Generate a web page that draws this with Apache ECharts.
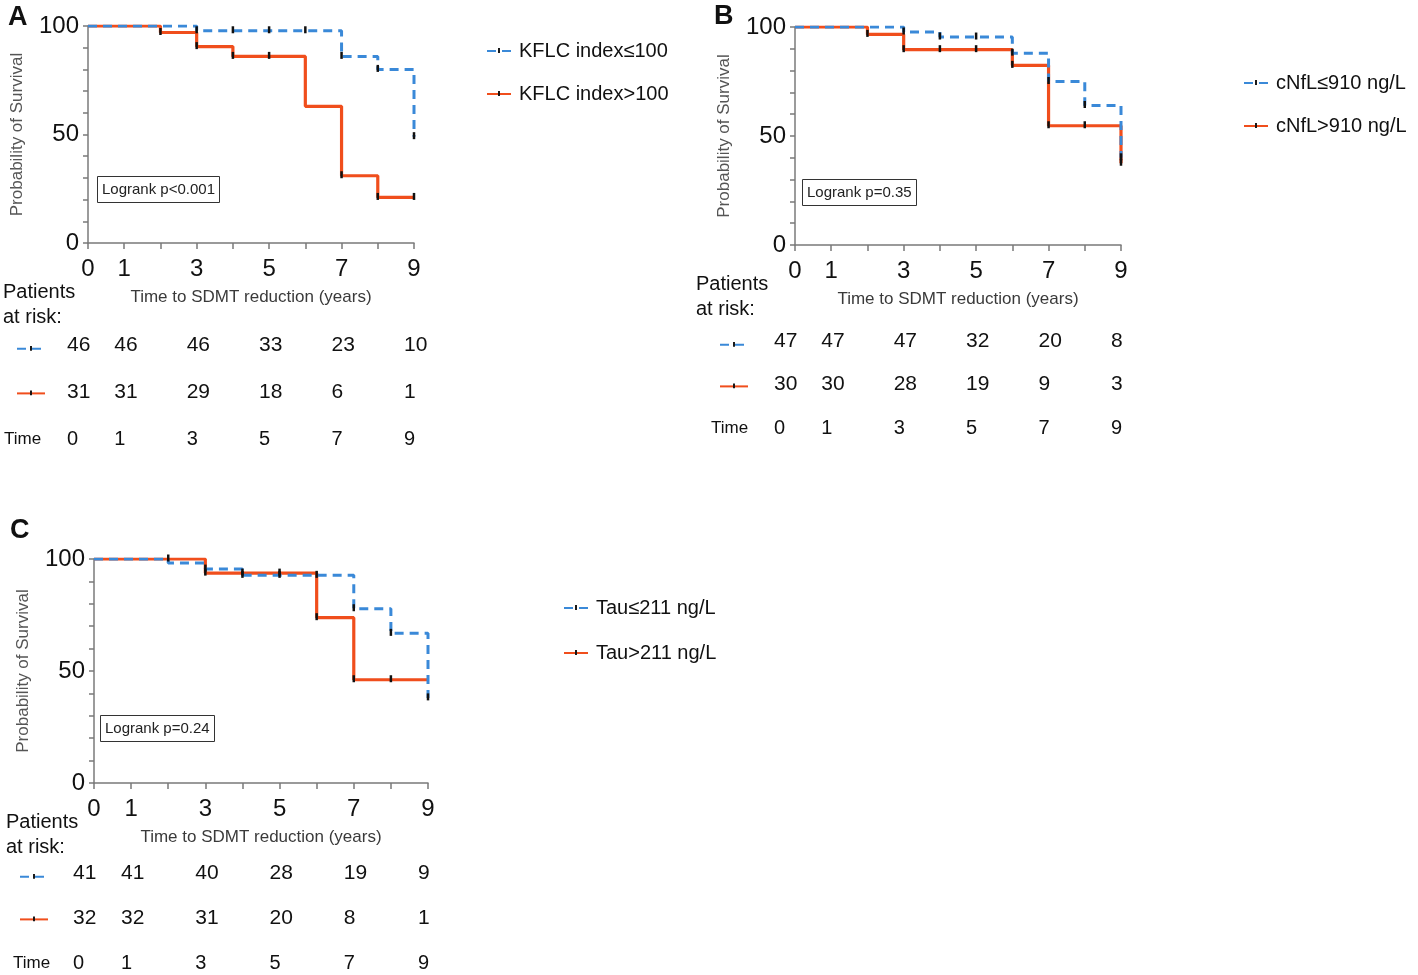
<!DOCTYPE html>
<html>
<head>
<meta charset="utf-8">
<title>Time to SDMT reduction</title>
<script src="https://cdn.jsdelivr.net/npm/echarts@6/dist/echarts.min.js"></script>
<style>
  html, body { margin: 0; padding: 0; background: #fff; }
  #chart { width: 1418px; height: 975px; }
</style>
</head>
<body>
<div id="chart"></div>
<script>
// ---- data ----
const timeTicks = [0, 1, 3, 5, 7, 9];

// A: KFLC index
const kflcLow = [[0, 100], [3, 97.8], [7, 86], [8, 80], [9, 49]];
const kflcHigh = [[0, 100], [2, 97], [3, 90.5], [4, 86], [6, 63], [7, 31], [8, 21], [9, 21]];
const kflcLowCens = [[3, 97.8], [4, 97.8], [5, 97.8], [6, 97.8], [7, 86], [8, 80], [9, 49]];
const kflcHighCens = [[2, 97], [3, 90.5], [4, 86], [5, 86], [7, 31], [8, 21], [9, 21]];
const kflcRiskLow = [46, 46, 46, 33, 23, 10];
const kflcRiskHigh = [31, 31, 29, 18, 6, 1];

// B: cNfL
const nflLow = [[0, 100], [3, 97.7], [4, 95.4], [6, 88], [7, 75], [8, 64], [9, 40]];
const nflHigh = [[0, 100], [2, 96.6], [3, 89.6], [6, 82.4], [7, 54.7], [9, 37.5]];
const nflLowCens = [[3, 97.7], [4, 95.4], [5, 95.4], [6, 88], [7, 75], [8, 64], [9, 40]];
const nflHighCens = [[2, 96.6], [3, 89.6], [4, 89.6], [5, 89.6], [6, 82.4], [7, 54.7], [8, 54.7], [9, 37.5]];
const nflRiskLow = [47, 47, 47, 32, 20, 8];
const nflRiskHigh = [30, 30, 28, 19, 9, 3];

// C: Tau
const tauLow = [[0, 100], [2, 98.2], [3, 95.5], [4, 92.7], [7, 77.8], [8, 66.8], [9, 38]];
const tauHigh = [[0, 100], [3, 93.7], [6, 73.8], [7, 46.1], [9, 46.1]];
const tauLowCens = [[2, 100], [3, 95.5], [4, 92.7], [5, 92.7], [6, 92.7], [7, 77.8], [8, 66.8], [9, 38]];
const tauHighCens = [[3, 93.7], [4, 93.7], [5, 93.7], [6, 73.8], [7, 46.1], [8, 46.1]];
const tauRiskLow = [41, 41, 40, 28, 19, 9];
const tauRiskHigh = [32, 32, 31, 20, 8, 1];

// ---- styling / layout ----
const FONT = '"Liberation Sans", Arial, sans-serif';
const BLUE = '#3a89d8';
const ORANGE = '#f04e1c';
const AXIS = '#7a7a7a';
// small mark in the middle of a 10x10 box (censor mark in legends)
const TICK = 'path://M0,0M10,10M4,2h2v5h-2z';

const panels = [
  {
    letter: 'A', letterPos: [8, 4],
    grid: { left: 88, top: 26, width: 326, height: 217 },
    table: { top: 345, height: 94 },
    names: ['KFLC index≤100', 'KFLC index>100'],
    low: kflcLow, high: kflcHigh, lowCens: kflcLowCens, highCens: kflcHighCens,
    riskLow: kflcRiskLow, riskHigh: kflcRiskHigh,
    logrank: 'Logrank p<0.001', logrankPos: [97, 176],
    legendPos: [481, 35], legendGap: 21,
    iconPos: [11, 339], iconGap: 35,
    patientsPos: [3, 280], timePos: [4, 429]
  },
  {
    letter: 'B', letterPos: [714, 3],
    grid: { left: 795, top: 27, width: 326, height: 218 },
    table: { top: 341, height: 87 },
    names: ['cNfL≤910 ng/L', 'cNfL>910 ng/L'],
    low: nflLow, high: nflHigh, lowCens: nflLowCens, highCens: nflHighCens,
    riskLow: nflRiskLow, riskHigh: nflRiskHigh,
    logrank: 'Logrank p=0.35', logrankPos: [802, 179],
    legendPos: [1238, 67], legendGap: 21,
    iconPos: [714, 335], iconGap: 32,
    patientsPos: [696, 272], timePos: [711, 418]
  },
  {
    letter: 'C', letterPos: [10, 517],
    grid: { left: 94, top: 559, width: 334, height: 224 },
    table: { top: 873, height: 90 },
    names: ['Tau≤211 ng/L', 'Tau>211 ng/L'],
    low: tauLow, high: tauHigh, lowCens: tauLowCens, highCens: tauHighCens,
    riskLow: tauRiskLow, riskHigh: tauRiskHigh,
    logrank: 'Logrank p=0.24', logrankPos: [100, 715],
    legendPos: [558, 592], legendGap: 23,
    iconPos: [14, 867], iconGap: 33,
    patientsPos: [6, 810], timePos: [13, 953]
  }
];

const grid = [], xAxis = [], yAxis = [], series = [], legend = [], title = [];

panels.forEach((p, i) => {
  const g = i * 2, gt = i * 2 + 1;
  grid.push(Object.assign({ containLabel: false }, p.grid));
  grid.push({ left: p.grid.left, width: p.grid.width, top: p.table.top, height: p.table.height });

  xAxis.push({
    gridIndex: g, type: 'value', min: 0, max: 9, interval: 1,
    name: 'Time to SDMT reduction (years)', nameLocation: 'middle', nameGap: 46,
    nameTextStyle: { fontFamily: FONT, fontSize: 17, color: '#3a3a3a' },
    axisLine: { onZero: false, lineStyle: { color: AXIS, width: 1.5 } },
    axisTick: { length: 6, lineStyle: { color: AXIS, width: 1.5 } },
    axisLabel: {
      margin: 14, fontFamily: FONT, fontSize: 24, color: '#111',
      formatter: v => (timeTicks.includes(v) ? String(v) : '')
    },
    splitLine: { show: false }
  });
  xAxis.push({ gridIndex: gt, type: 'value', min: 0, max: 9, show: false });

  yAxis.push({
    gridIndex: g, type: 'value', min: 0, max: 100, interval: 10,
    name: 'Probability of Survival', nameLocation: 'middle', nameRotate: 90, nameGap: 62,
    nameTextStyle: { fontFamily: FONT, fontSize: 17, color: '#555' },
    axisLine: { show: true, lineStyle: { color: AXIS, width: 1.5 } },
    axisTick: { show: true, length: 5, lineStyle: { color: AXIS, width: 1.5 } },
    axisLabel: {
      margin: 9, fontFamily: FONT, fontSize: 24, color: '#111',
      formatter: v => (v % 50 === 0 ? String(v) : '')
    },
    splitLine: { show: false }
  });
  yAxis.push({ gridIndex: gt, type: 'value', min: 0, max: 2, inverse: true, show: false });

  // survival curves
  series.push({
    name: p.names[1], type: 'line', xAxisIndex: g, yAxisIndex: g, step: 'end',
    data: p.high, symbol: TICK, showSymbol: false, z: 2,
    lineStyle: { color: ORANGE, width: 3.2 }, itemStyle: { color: '#111' }
  });
  series.push({
    name: p.names[0], type: 'line', xAxisIndex: g, yAxisIndex: g, step: 'end',
    data: p.low, symbol: TICK, showSymbol: false, z: 3,
    lineStyle: { color: BLUE, width: 3, type: [9, 6] }, itemStyle: { color: '#111' }
  });
  // censor marks
  [p.highCens, p.lowCens].forEach((d, k) => {
    series.push({
      name: 'cens' + i + k, type: 'scatter', xAxisIndex: g, yAxisIndex: g,
      data: d, symbol: 'rect', symbolSize: [2.5, 7], symbolOffset: [0, -1], z: 5,
      itemStyle: { color: '#111', opacity: 1 }, silent: true
    });
  });

  // number-at-risk table
  const rows = [p.riskLow, p.riskHigh, timeTicks];
  const tableData = [];
  rows.forEach((vals, r) => {
    vals.forEach((v, c) => {
      tableData.push({
        value: [timeTicks[c], r, v],
        label: {
          offset: [timeTicks[c] === 0 ? -21 : -10, 0],
          fontSize: r === 2 ? 20 : 21
        }
      });
    });
  });
  series.push({
    name: 'risk' + i, type: 'scatter', xAxisIndex: gt, yAxisIndex: gt, silent: true,
    symbolSize: 0.01, itemStyle: { color: '#000', opacity: 1 }, data: tableData,
    label: {
      show: true, position: 'right', distance: 0, align: 'left', verticalAlign: 'middle',
      fontFamily: FONT, color: '#111', textBorderWidth: 0, formatter: d => String(d.value[2])
    }
  });

  // legends
  legend.push({
    data: p.names, orient: 'vertical', left: p.legendPos[0], top: p.legendPos[1],
    itemWidth: 24, itemHeight: 12, itemGap: p.legendGap, selectedMode: false,
    itemStyle: { color: '#111', borderWidth: 0 },
    textStyle: { fontFamily: FONT, fontSize: 20, color: '#111', lineHeight: 22, padding: [0, 0, 0, 3] }
  });
  legend.push({
    data: p.names, orient: 'vertical', left: p.iconPos[0], top: p.iconPos[1],
    itemWidth: 28, itemHeight: 12, itemGap: p.iconGap, selectedMode: false,
    formatter: () => '',
    itemStyle: { color: '#111', borderWidth: 0 },
    textStyle: { fontSize: 12, lineHeight: 12 }
  });

  // texts
  title.push({
    text: p.letter, left: p.letterPos[0], top: p.letterPos[1], padding: 0,
    textStyle: { fontFamily: FONT, fontSize: 27, fontWeight: 'bold', color: '#111' }
  });
  title.push({
    text: p.logrank, left: p.logrankPos[0], top: p.logrankPos[1], padding: [5, 5],
    borderColor: '#333', borderWidth: 1,
    textStyle: { fontFamily: FONT, fontSize: 15, fontWeight: 'normal', color: '#222', lineHeight: 17 }
  });
  title.push({
    text: 'Patients\nat risk:', left: p.patientsPos[0], top: p.patientsPos[1], padding: 0,
    textStyle: { fontFamily: FONT, fontSize: 20, fontWeight: 'normal', color: '#111', lineHeight: 25 }
  });
  title.push({
    text: 'Time', left: p.timePos[0], top: p.timePos[1], padding: 0,
    textStyle: { fontFamily: FONT, fontSize: 17, fontWeight: 'normal', color: '#111', lineHeight: 20 }
  });
});

const chart = echarts.init(document.getElementById('chart'));
chart.setOption({
  backgroundColor: '#fff',
  animation: false,
  title, legend, grid, xAxis, yAxis, series
});
window.onresize = function () {
  chart.resize();
};
</script>
</body>
</html>
